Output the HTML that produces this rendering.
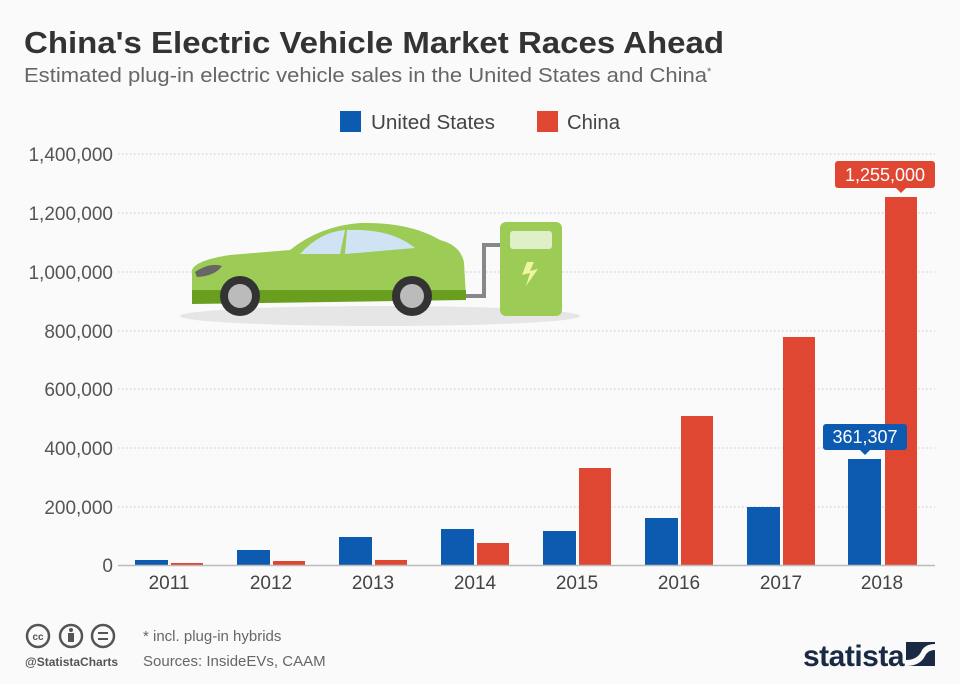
<!DOCTYPE html>
<html><head><meta charset="utf-8"><style>
body{margin:0;background:#fafafa;}
svg{display:block;font-family:"Liberation Sans","DejaVu Sans",sans-serif;}
</style></head><body>
<svg width="960" height="684" viewBox="0 0 960 684">
<rect width="960" height="684" fill="#fafafa"/>
<text x="24" y="53" font-size="31" font-weight="bold" fill="#333" textLength="700" lengthAdjust="spacingAndGlyphs">China's Electric Vehicle Market Races Ahead</text>
<text x="24" y="82" font-size="20" fill="#666"><tspan textLength="683" lengthAdjust="spacingAndGlyphs">Estimated plug-in electric vehicle sales in the United States and China</tspan><tspan font-size="11" dy="-7">*</tspan></text>
<rect x="340" y="111" width="21" height="21" fill="#0c5bb0"/>
<text x="371" y="129" font-size="20" fill="#444" textLength="124" lengthAdjust="spacingAndGlyphs">United States</text>
<rect x="537" y="111" width="21" height="21" fill="#e04732"/>
<text x="567" y="129" font-size="20" fill="#444" textLength="53" lengthAdjust="spacingAndGlyphs">China</text>
<g stroke="#c8c8c8" stroke-dasharray="1.5,2.5" stroke-width="1">
<line x1="118" x2="935" y1="154" y2="154"/><line x1="118" x2="935" y1="213" y2="213"/>
<line x1="118" x2="935" y1="272" y2="272"/><line x1="118" x2="935" y1="331" y2="331"/>
<line x1="118" x2="935" y1="389" y2="389"/><line x1="118" x2="935" y1="448" y2="448"/>
<line x1="118" x2="935" y1="507" y2="507"/>
</g>
<g font-size="19" fill="#555" text-anchor="end">
<text x="113" y="161">1,400,000</text><text x="113" y="220">1,200,000</text>
<text x="113" y="279">1,000,000</text><text x="113" y="338">800,000</text>
<text x="113" y="396">600,000</text><text x="113" y="455">400,000</text>
<text x="113" y="514">200,000</text><text x="113" y="572">0</text>
</g>
<!-- car -->
<ellipse cx="380" cy="316" rx="200" ry="10" fill="#e6e6e6"/>
<path d="M192 300 L192 270 Q196 260 230 255 L290 250 Q320 226 360 223 Q410 222 440 240 Q460 245 464 262 L466 298 L192 300 Z" fill="#9ccc55"/>
<path d="M192 290 L466 290 L466 300 L192 304 Z" fill="#6a9e1f"/>
<path d="M300 254 Q320 232 345 230 L340 254 Z" fill="#cfe3f5"/>
<path d="M347 230 Q390 228 415 248 L345 254 Z" fill="#cfe3f5"/>
<path d="M195 272 Q210 262 222 266 Q215 276 197 277 Z" fill="#666"/>
<circle cx="240" cy="296" r="20" fill="#333"/><circle cx="240" cy="296" r="12" fill="#bbb"/>
<circle cx="412" cy="296" r="20" fill="#333"/><circle cx="412" cy="296" r="12" fill="#bbb"/>
<path d="M466 296 L484 296 L484 245 L502 245" stroke="#888" stroke-width="4" fill="none"/>
<rect x="500" y="222" width="62" height="94" rx="6" fill="#9ccc55"/>
<rect x="510" y="231" width="42" height="18" rx="3" fill="#dff0c8"/>
<path d="M527 262 L522 275 L530 273 L526 286 L538 269 L530 271 L534 262 Z" fill="#eef6a0"/>
<!-- bars -->
<g fill="#0c5bb0">
<rect x="135" y="560" width="33" height="5"/><rect x="237" y="550" width="33" height="15"/>
<rect x="339" y="537" width="33" height="28"/><rect x="441" y="529" width="33" height="36"/>
<rect x="543" y="531" width="33" height="34"/><rect x="645" y="518" width="33" height="47"/>
<rect x="747" y="507" width="33" height="58"/><rect x="848" y="459" width="33" height="106"/>
</g>
<g fill="#e04732">
<rect x="171" y="563" width="32" height="2"/><rect x="273" y="561" width="32" height="4"/>
<rect x="375" y="560" width="32" height="5"/><rect x="477" y="543" width="32" height="22"/>
<rect x="579" y="468" width="32" height="97"/><rect x="681" y="416" width="32" height="149"/>
<rect x="783" y="337" width="32" height="228"/><rect x="885" y="197" width="32" height="368"/>
</g>
<line x1="118" x2="935" y1="565.5" y2="565.5" stroke="#bbb" stroke-width="1.5"/>
<g font-size="19" fill="#444" text-anchor="middle">
<text x="169" y="589">2011</text><text x="271" y="589">2012</text><text x="373" y="589">2013</text>
<text x="475" y="589">2014</text><text x="577" y="589">2015</text><text x="679" y="589">2016</text>
<text x="781" y="589">2017</text><text x="882" y="589">2018</text>
</g>
<rect x="835" y="161" width="100" height="27" rx="3" fill="#e04732"/>
<path d="M896 188 L901 193 L906 188 Z" fill="#e04732"/>
<text x="885" y="181" font-size="18" fill="#fff" text-anchor="middle">1,255,000</text>
<rect x="823" y="424" width="84" height="26" rx="3" fill="#0c5bb0"/>
<path d="M860 450 L865 455 L870 450 Z" fill="#0c5bb0"/>
<text x="865" y="443" font-size="18" fill="#fff" text-anchor="middle">361,307</text>
<!-- footer -->
<g fill="none" stroke="#555" stroke-width="2.5">
<circle cx="38" cy="636" r="11"/><circle cx="71" cy="636" r="11"/><circle cx="103" cy="636" r="11"/>
</g>
<text x="38" y="640" font-size="10" font-weight="bold" fill="#555" text-anchor="middle">cc</text>
<circle cx="71" cy="630" r="2" fill="#555"/><rect x="68" y="633" width="6" height="9" fill="#555"/>
<rect x="98" y="632" width="10" height="2" fill="#555"/><rect x="98" y="638" width="10" height="2" fill="#555"/>
<text x="25" y="666" font-size="12" font-weight="bold" fill="#555">@StatistaCharts</text>
<text x="143" y="641" font-size="15" fill="#666">* incl. plug-in hybrids</text>
<text x="143" y="666" font-size="15" fill="#666">Sources: InsideEVs, CAAM</text>
<text x="803" y="666" font-size="30" font-weight="bold" fill="#1a2a44" letter-spacing="-0.5">statista</text>
<path d="M906 642 L935 642 L935 666 L906 666 Z" fill="#1a2a44"/>
<path d="M906 660 Q918 660 922 650 Q926 644 935 644 L935 650 Q928 650 925 656 Q920 666 906 666 Z" fill="#fafafa"/>
</svg>
</body></html>
